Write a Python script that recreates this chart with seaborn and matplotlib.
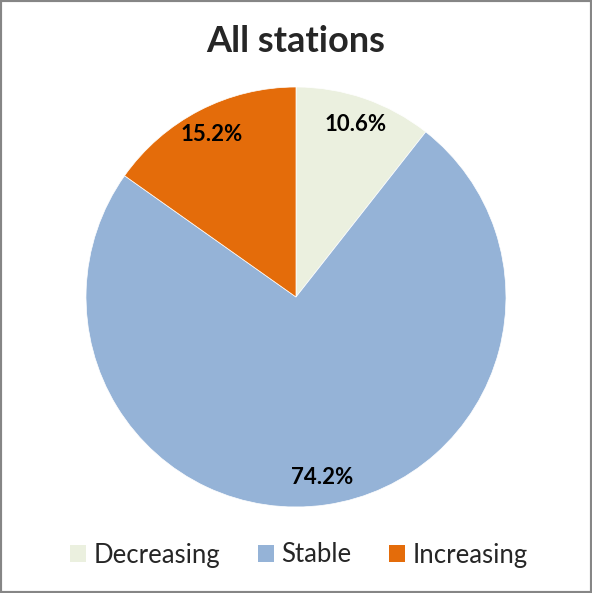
import matplotlib
matplotlib.use('Agg')
import matplotlib.pyplot as plt
import seaborn as sns
from matplotlib.patches import Patch, Rectangle

categories = ['Decreasing', 'Stable', 'Increasing']
shares = [10.6, 74.2, 15.2]
colors = ['#EBF0DF', '#95B3D7', '#E46C0A']
title = 'All stations'

sns.set_theme(style='white')
plt.rcParams['font.family'] = ['Lato', 'DejaVu Sans']

fig = plt.figure(figsize=(5.92, 5.93), dpi=100)
ax = fig.add_axes([86 / 592, 86 / 593, 420 / 592, 420 / 593])

wedges, texts, autotexts = ax.pie(
    shares,
    colors=colors,
    startangle=90,
    counterclock=False,
    autopct='%.1f%%',
    pctdistance=0.87,
    wedgeprops=dict(edgecolor='white', linewidth=0.5),
    textprops=dict(fontsize=16, fontweight='bold', color='black'),
)
ax.set_aspect('equal')
ax.set_xlim(-1, 1)
ax.set_ylim(-1, 1)

fig.text(0.5, 1 - 42 / 593, title, ha='center', va='center',
         fontsize=26, fontweight='bold')

handles = [Patch(facecolor=c, edgecolor='none', label=l) for c, l in zip(colors, categories)]
fig.legend(handles=handles, loc='center', bbox_to_anchor=(0.505, 1 - 555 / 593),
           ncol=3, frameon=False, fontsize=18.5, handlelength=0.62, handleheight=0.62,
           handletextpad=0.3, columnspacing=1.45)

fig.patches.append(Rectangle((0, 0), 1, 1, transform=fig.transFigure, fill=False,
                             edgecolor='#868686', linewidth=3, zorder=10))

fig.savefig('out.png', dpi=100)
